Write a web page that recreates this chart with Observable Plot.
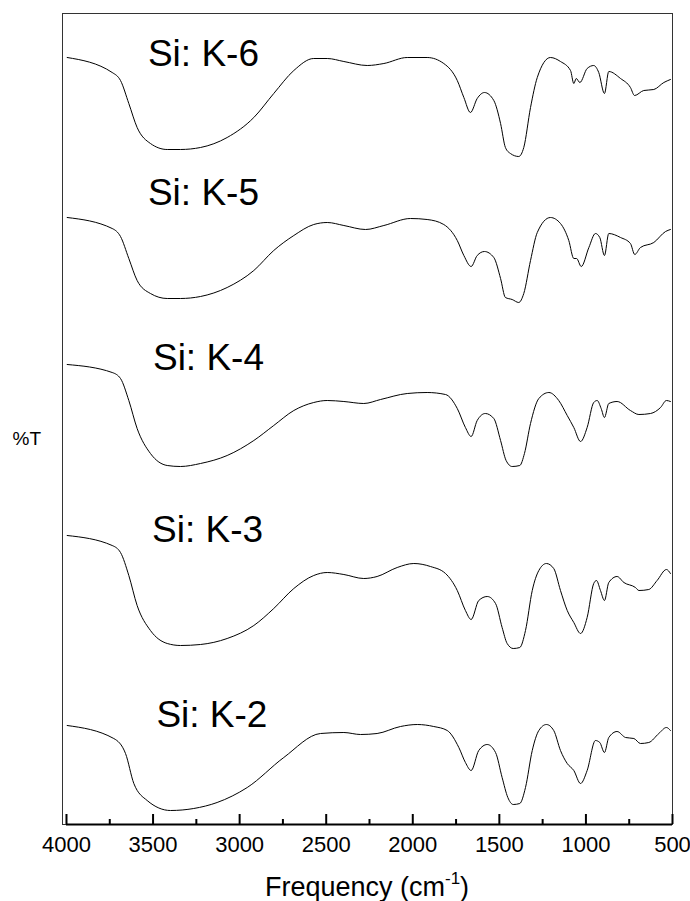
<!DOCTYPE html>
<html><head><meta charset="utf-8">
<script src="https://cdn.jsdelivr.net/npm/d3@7"></script>
<script src="https://cdn.jsdelivr.net/npm/@observablehq/plot@0.6"></script>
<style>
body{margin:0;background:#fff}
svg{font-family:"Liberation Sans",Arial,sans-serif}
</style>
</head><body><div id="chart"></div>
<script>
// sample names, top to bottom
const sampleNames = ["Si: K-6","Si: K-5","Si: K-4","Si: K-3","Si: K-2"];
// [wavenumber (cm-1), %T (arbitrary, stacked)]
const k6 = [[3996,767],[3736,752],[3688,744],[3640,721],[3592,697],[3515,681],[3418,675],[3342,675],[3226,677],[3072,687],[2918,707],[2803,731],[2687,754],[2572,766],[2494,766],[2398,763],[2263,759],[2167,761],[2032,767],[1917,767],[1821,761],[1743,744],[1705,727],[1667,712],[1628,726],[1586,732],[1532,724],[1493,701],[1465,677],[1436,671],[1388,668],[1359,677],[1320,717],[1281,747],[1205,767],[1147,763],[1089,754],[1070,741],[1056,746],[1035,742],[993,756],[955,759],[926,752],[893,731],[868,753],[800,746],[743,737],[719,729],[666,734],[608,735],[550,742],[512,745]];
const k5 = [[3996,607],[3736,596],[3688,588],[3640,566],[3592,544],[3515,531],[3418,526],[3342,526],[3226,528],[3072,537],[2918,554],[2803,574],[2687,589],[2572,600],[2494,602],[2398,599],[2273,595],[2167,599],[2013,606],[1917,605],[1821,600],[1743,584],[1705,569],[1663,558],[1628,569],[1586,573],[1532,567],[1493,546],[1465,527],[1426,525],[1388,522],[1359,531],[1320,564],[1281,592],[1205,607],[1147,601],[1099,584],[1070,566],[1054,566],[1027,558],[983,577],[945,591],[920,587],[893,569],[868,591],[800,587],[743,581],[718,570],[685,577],[608,582],[540,593],[512,595]];
const k4 = [[3996,460],[3736,452],[3688,446],[3640,424],[3592,396],[3515,371],[3418,359],[3342,358],[3226,361],[3072,369],[2918,384],[2803,399],[2687,414],[2572,422],[2494,424],[2398,423],[2283,421],[2186,425],[2032,431],[1917,432],[1811,430],[1743,416],[1696,397],[1663,388],[1628,404],[1581,411],[1532,406],[1493,384],[1461,364],[1426,358],[1382,359],[1355,371],[1320,401],[1272,426],[1214,432],[1157,424],[1108,409],[1070,397],[1031,383],[993,397],[955,422],[935,424],[912,416],[893,407],[868,421],[820,423],[743,414],[694,410],[627,411],[569,417],[535,424],[512,423]];
const k3 = [[3996,289],[3736,279],[3688,272],[3640,249],[3592,219],[3515,194],[3418,181],[3342,179],[3226,180],[3072,186],[2918,199],[2803,216],[2687,236],[2572,249],[2494,252],[2398,250],[2283,246],[2206,248],[2090,257],[1994,261],[1898,258],[1811,251],[1743,234],[1696,214],[1663,205],[1619,224],[1570,228],[1522,221],[1484,197],[1455,181],[1420,176],[1382,177],[1349,194],[1310,234],[1272,254],[1228,261],[1186,256],[1147,234],[1108,214],[1070,202],[1031,191],[993,207],[955,241],[939,244],[916,234],[893,224],[868,242],[820,248],[781,242],[714,237],[694,234],[637,235],[589,244],[535,255],[512,251]];
const k2 = [[3996,99],[3727,86],[3659,71],[3611,41],[3534,24],[3399,14],[3265,16],[3130,22],[2956,37],[2745,67],[2533,91],[2398,92],[2302,90],[2206,91],[2071,98],[1974,100],[1879,98],[1801,94],[1734,77],[1696,62],[1663,54],[1619,74],[1570,80],[1522,72],[1484,47],[1451,27],[1420,20],[1382,21],[1349,37],[1310,74],[1272,94],[1228,100],[1186,94],[1147,74],[1108,61],[1070,54],[1031,41],[993,54],[945,84],[920,82],[893,72],[868,87],[820,93],[771,87],[723,86],[685,81],[637,82],[579,91],[535,97],[512,94]];
const spectra = [k6, k5, k4, k3, k2];
// label anchor (wavenumber, %T) for each sample name
const labelWn = [3209, 3209, 3180, 3185, 3160];
const labelT = [770, 631, 466, 294, 109];
const majorTicks = [4000, 3500, 3000, 2500, 2000, 1500, 1000, 500];
const minorTicks = [3750, 3250, 2750, 2250, 1750, 1250, 750];

const data = spectra.flatMap((s, i) => s.map(([wn, t]) => ({wn, t, sample: sampleNames[i]})));
const labels = sampleNames.map((name, i) => ({name, wn: labelWn[i], t: labelT[i]}));

const W = 690, H = 901;
const chart = Plot.plot({
  width: W, height: H,
  marginLeft: 62, marginRight: 18, marginTop: 13, marginBottom: 77,
  style: {fontFamily: '"Liberation Sans", Arial, sans-serif', background: "#fff", color: "#000"},
  x: {domain: [4023, 500]},
  y: {domain: [0, 811], axis: null},
  marks: [
    Plot.frame({stroke: "#333", strokeWidth: 1}),
    Plot.ruleY([0], {x1: 4000, x2: 500, stroke: "#000", strokeWidth: 2}),
    Plot.ruleX(majorTicks, {y1: 0, y2: 10, stroke: "#000", strokeWidth: 2}),
    Plot.ruleX(minorTicks, {y1: 0, y2: 5, stroke: "#000", strokeWidth: 2}),
    Plot.axisX({ticks: majorTicks, anchor: "bottom", tickSize: 0, tickPadding: 12, fontSize: 22, label: null, tickFormat: d => String(d)}),
    Plot.line(data, {x: "wn", y: "t", z: "sample", stroke: "#000", strokeWidth: 1, curve: "monotone-x"}),
    Plot.text(labels, {x: "wn", y: "t", text: "name", fontSize: 37, fill: "#000", textAnchor: "middle"}),
    Plot.text(["%T"], {frameAnchor: "left", dx: -50, dy: 20, fontSize: 19, fill: "#000"})
  ]
});
document.getElementById("chart").appendChild(chart);

// x-axis title with superscript
const svg = d3.select(chart);
const title = svg.append("text")
  .attr("x", (62 + (W - 18)) / 2).attr("y", 896)
  .attr("text-anchor", "middle").attr("font-size", 27).attr("fill", "#000");
title.append("tspan").text("Frequency (cm");
title.append("tspan").attr("font-size", 17).attr("dy", -12).text("-1");
title.append("tspan").attr("dy", 12).text(")");
</script>
</body></html>
